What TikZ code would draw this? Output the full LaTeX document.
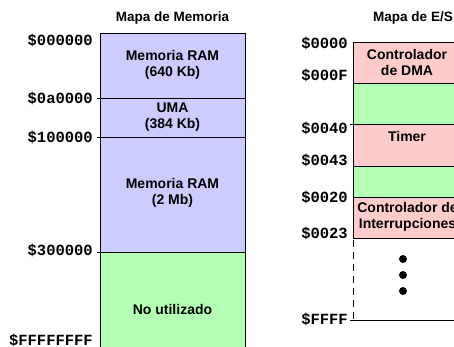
\documentclass[tikz,border=0pt]{standalone}
\usepackage{fontspec}
\setmainfont{Liberation Sans}
\newfontfamily\addrfont{Liberation Mono}
\definecolor{ramc}{HTML}{CCCCFF}
\definecolor{freec}{HTML}{B3FFB3}
\definecolor{ioc}{HTML}{FFCCCC}
\begin{document}
\begin{tikzpicture}[x=1pt,y=-1pt,
  lbl/.style={font=\fontsize{14}{16}\selectfont\bfseries, align=center, inner sep=0pt},
  addr/.style={font=\fontsize{15.5}{15.5}\addrfont\bfseries, anchor=east, inner sep=0pt},
  seg/.style={draw=black, line width=0.9pt},
  ttl/.style={font=\fontsize{13.5}{15}\selectfont\bfseries, inner sep=0pt}]
\clip (0,0) rectangle (454,347);
\useasboundingbox (0,0) rectangle (454,347);
% left memory map
\fill[ramc] (100,33) rectangle (245,252);
\fill[freec] (100,252) rectangle (245,350);
\draw[seg] (100,350) -- (100,33) -- (245,33) -- (245,350);
\draw[seg] (97,98) -- (245,98);
\draw[seg] (97,137) -- (245,137);
\draw[seg] (97,252) -- (245,252);
\node[ttl] (t1) at (172.5,18) {Mapa de Memoria};
\node[lbl] (r1) at (172.5,65) {Memoria RAM\\(640 Kb)};
\node[lbl] (r2) at (172.5,117) {UMA\\(384 Kb)};
\node[lbl] (r3) at (172.5,193) {Memoria RAM\\(2 Mb)};
\node[lbl] (r4) at (172.5,309) {No utilizado};
\node[addr] (a1) at (93,40) {\$000000};
\node[addr] (a2) at (93,98) {\$0a0000};
\node[addr] (a3) at (93,137) {\$100000};
\node[addr] (a4) at (93,250) {\$300000};
\node[addr] (a5) at (93,340) {\$FFFFFFFF};
% right I/O map
\fill[ioc] (353,42) rectangle (475,83);
\fill[freec] (353,83) rectangle (475,124);
\fill[ioc] (353,124) rectangle (475,166);
\fill[freec] (353,166) rectangle (475,197);
\fill[ioc] (353,197) rectangle (475,238);
\draw[seg] (353,238) -- (353,42) -- (475,42);
\draw[seg] (353,83) -- (475,83);
\draw[seg] (350,124) -- (475,124);
\draw[seg] (353,166) -- (475,166);
\draw[seg] (353,197) -- (475,197);
\draw[seg] (353,238) -- (475,238);
\draw[seg, dash pattern=on 7pt off 5pt] (353,240) -- (353,320);
\draw[seg] (350,320) -- (475,320);
\node[ttl] (t2) at (413,18) {Mapa de E/S};
\node[lbl] (d1) at (407,62) {Controlador\\de DMA};
\node[lbl] (d2) at (407,136) {Timer};
\node[lbl] (d3) at (407.5,217) {Controlador de\\Interrupciones};
\fill (403,259) circle (4);
\fill (403,275) circle (4);
\fill (403,291) circle (4);
\node[addr] (b1) at (348,43) {\$0000};
\node[addr] (b2) at (348,75) {\$000F};
\node[addr] (b3) at (348,128) {\$0040};
\node[addr] (b4) at (348,160) {\$0043};
\node[addr] (b5) at (348,197) {\$0020};
\node[addr] (b6) at (348,233) {\$0023};
\node[addr] (b7) at (348,319) {\$FFFF};
\end{tikzpicture}
\end{document}
